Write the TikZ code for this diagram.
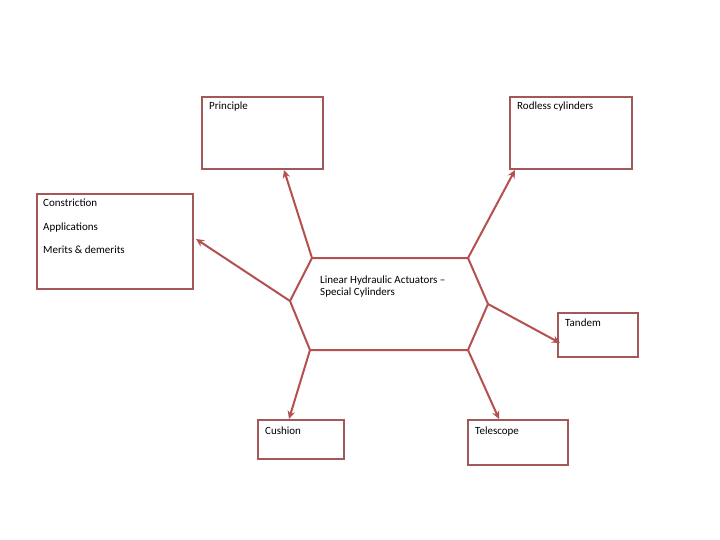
\documentclass[tikz,border=0pt]{standalone}
\usepackage{fontspec}
\setmainfont{Carlito}
\usetikzlibrary{arrows.meta,calc}
\definecolor{boxc}{RGB}{160,88,88}
\definecolor{arrc}{RGB}{180,80,77}
\begin{document}
\begin{tikzpicture}[x=1pt,y=-1pt,
  box/.style={draw=boxc,line width=2pt,rectangle,inner sep=0pt,anchor=north west},
  lbl/.style={anchor=base west,inner sep=0pt,font=\fontsize{11}{12}\selectfont},
  conn/.style={draw=arrc,line width=2pt,-{Stealth[length=8pt,width=7.5pt]}}]
\useasboundingbox (0,0) rectangle (720,540);
\fill[white] (0,0) rectangle (720,540);
% boxes
\node[box,minimum width=121pt,minimum height=72pt] (pr) at (201,96) {};
\node[box,minimum width=122pt,minimum height=72pt] (rl) at (509,96) {};
\node[box,minimum width=156pt,minimum height=95pt] (cn) at (36,193) {};
\node[box,minimum width=80pt,minimum height=44pt] (td) at (557,312) {};
\node[box,minimum width=86pt,minimum height=39pt] (cu) at (257,419) {};
\node[box,minimum width=100pt,minimum height=45pt] (te) at (467,419) {};
% hexagon
\coordinate (htl) at (312,258);
\coordinate (htr) at (468,258);
\coordinate (hr) at (488,304);
\coordinate (hbr) at (468,350);
\coordinate (hbl) at (310,350);
\coordinate (hl) at (290,301);
\draw[draw=arrc,line width=2pt,line join=miter] (htl) -- (htr) -- (hr) -- (hbr) -- (hbl) -- (hl) -- cycle;
% texts
\node[lbl] (tpr) at (209,110) {Principle};
\node[lbl] (trl) at (517,110) {Rodless cylinders};
\node[lbl] (tc1) at (43,207) {Constriction};
\node[lbl] (tc2) at (43,230) {Applications};
\node[lbl] (tc3) at (43,253) {Merits \& demerits};
\node[lbl] (th1) at (320,283) {Linear Hydraulic Actuators –};
\node[lbl] (th2) at (320,295) {Special Cylinders};
\node[lbl] (ttd) at (565,326) {Tandem};
\node[lbl] (tcu) at (265,434) {Cushion};
\node[lbl] (tte) at (475,434) {Telescope};
% connectors
\draw[conn] (htl) -- ([xshift=21.5pt]pr.south);
\draw[conn] (htr) -- ([xshift=6pt]rl.south west);
\draw[conn] (hl) -- ([xshift=2pt,yshift=2.5pt]cn.east);
\draw[conn] (hr) -- ([xshift=3pt,yshift=-8pt]td.west);
\draw[conn] (hbl) -- ([xshift=-12pt]cu.north);
\draw[conn] (hbr) -- ([xshift=-19pt]te.north);
\end{tikzpicture}
\end{document}
